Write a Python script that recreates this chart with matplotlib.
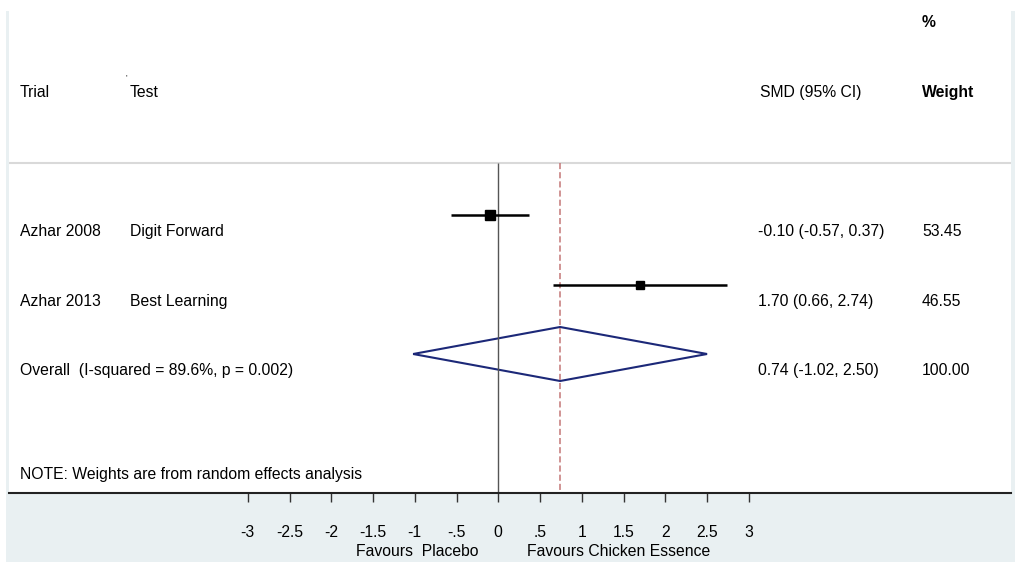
import matplotlib.pyplot as plt
import numpy as np
from matplotlib.patches import Rectangle, Polygon

plt.rcParams['font.family'] = ['Liberation Sans', 'DejaVu Sans']

# данные мета-анализа
trials = ['Azhar 2008', 'Azhar 2013']
tests = ['Digit Forward', 'Best Learning']
smd = [-0.10, 1.70]
ci_low = [-0.57, 0.66]
ci_high = [0.37, 2.74]
weights = [53.45, 46.55]

overall_smd = 0.74
overall_low = -1.02
overall_high = 2.50
overall_label = 'Overall  (I-squared = 89.6%, p = 0.002)'
note = 'NOTE: Weights are from random effects analysis'

tick_vals = [-3, -2.5, -2, -1.5, -1, -0.5, 0, 0.5, 1, 1.5, 2, 2.5, 3]
tick_labels = ['-3', '-2.5', '-2', '-1.5', '-1', '-.5', '0', '.5', '1', '1.5', '2', '2.5', '3']

W, H = 1024, 571
fig = plt.figure(figsize=(W / 100, H / 100), dpi=100)
fig.patch.set_facecolor('white')

# светлая рамка вокруг области графика
band = Rectangle((6 / W, (H - 562) / H), (1015 - 6) / W, (562 - 11) / H,
                 transform=fig.transFigure, facecolor='#e9f0f2', edgecolor='none', zorder=-1)
fig.patches.append(band)

ax = fig.add_axes([9 / W, (H - 493) / H, 1002 / W, (493 - 11) / H])
ax.set_facecolor('white')

# масштаб: 0 на x=498.3 px, 1 единица = 83.5 px
x0, unit = 498.3, 83.5
ax.set_xlim((9 - x0) / unit, (1011 - x0) / unit)
ax.set_ylim(493, 11)

row_y = [215, 285]
overall_y = 354
text_dy = 16
header_y = 92
sep_y = 163

ax.axhline(sep_y, color='#d9d9d9', lw=1.5)
ax.vlines(0, sep_y, 493, color='#555555', lw=1.0)
ax.vlines(overall_smd, sep_y, 493, color='#c47676', lw=1.1, linestyles=(0, (4, 2)))

for y, m, lo, hi, w in zip(row_y, smd, ci_low, ci_high, weights):
    ax.hlines(y, lo, hi, color='black', lw=1.8)
    ax.plot(m, y, 's', color='black', ms=0.9 * np.sqrt(w))

dia = Polygon([(overall_low, overall_y), (overall_smd, overall_y - 27),
               (overall_high, overall_y), (overall_smd, overall_y + 27)],
              closed=True, fill=False, edgecolor='#1c2878', lw=1.5)
ax.add_patch(dia)

# текстовые колонки
tr = ax.get_yaxis_transform()
def col(px):
    return (px - 9) / 1002

fs = 11.3
ax.text(col(20), header_y, 'Trial', transform=tr, fontsize=fs, va='center')
ax.text(col(130), header_y, 'Test', transform=tr, fontsize=fs, va='center')
ax.text(col(125), 78, "'", transform=tr, fontsize=6, va='center')
ax.text(col(760), header_y, 'SMD (95% CI)', transform=tr, fontsize=fs, va='center')
ax.text(col(922), 22, '%', transform=tr, fontsize=fs, va='center', fontweight='bold')
ax.text(col(922), header_y, 'Weight', transform=tr, fontsize=fs, va='center', fontweight='bold')

for y, t, s, m, lo, hi, w in zip(row_y, trials, tests, smd, ci_low, ci_high, weights):
    ty = y + text_dy
    ax.text(col(20), ty, t, transform=tr, fontsize=fs, va='center')
    ax.text(col(130), ty, s, transform=tr, fontsize=fs, va='center')
    ax.text(col(758), ty, f'{m:.2f} ({lo:.2f}, {hi:.2f})', transform=tr, fontsize=fs, va='center')
    ax.text(col(922), ty, f'{w:.2f}', transform=tr, fontsize=fs, va='center')

oy = overall_y + text_dy
ax.text(col(20), oy, overall_label, transform=tr, fontsize=fs, va='center')
ax.text(col(758), oy, f'{overall_smd:.2f} ({overall_low:.2f}, {overall_high:.2f})',
        transform=tr, fontsize=fs, va='center')
ax.text(col(922), oy, f'{sum(weights):.2f}', transform=tr, fontsize=fs, va='center')
ax.text(col(20), 474, note, transform=tr, fontsize=fs, va='center')

# ось X
for s in ['top', 'left', 'right']:
    ax.spines[s].set_visible(False)
ax.spines['bottom'].set_color('#222222')
ax.spines['bottom'].set_linewidth(1.5)
ax.set_yticks([])
ax.set_xticks(tick_vals)
ax.set_xticklabels(tick_labels, fontsize=fs)
ax.tick_params(axis='x', length=6.5, width=1, color='#333333', pad=16.5)

xt = ax.get_xaxis_transform()
fav_y = -(552 - 493) / (493 - 11)
ax.text((417 - x0) / unit, fav_y, 'Favours  Placebo', transform=xt, fontsize=fs,
        ha='center', va='center')
ax.text((619 - x0) / unit, fav_y, 'Favours Chicken Essence', transform=xt, fontsize=fs,
        ha='center', va='center')

fig.savefig('out.png', dpi=100)
